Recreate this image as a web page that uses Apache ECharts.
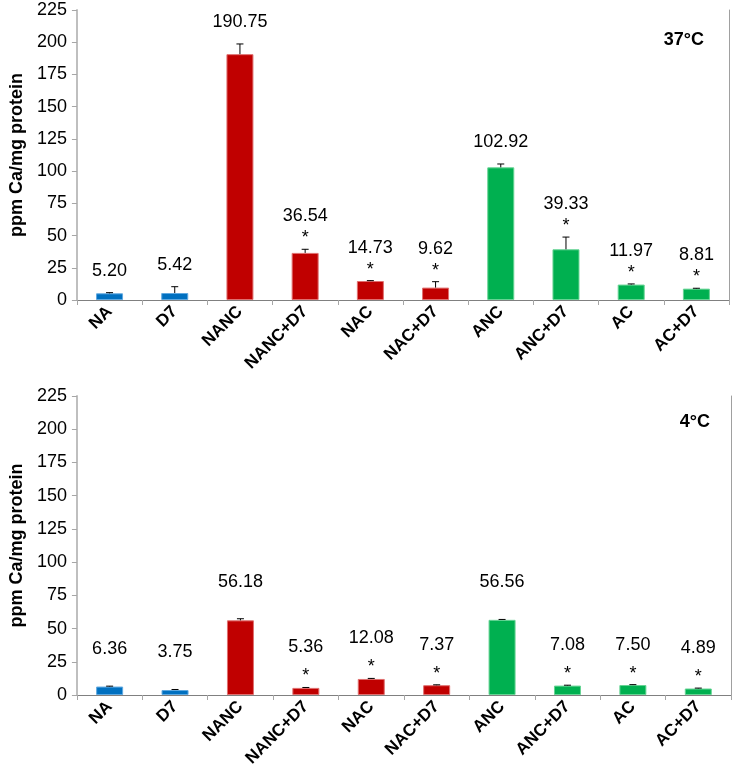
<!DOCTYPE html>
<html>
<head>
<meta charset="utf-8">
<script src="https://cdn.jsdelivr.net/npm/echarts@6/dist/echarts.min.js"></script>
<style>html,body{margin:0;padding:0;background:#fff}#c{width:732px;height:773px}</style>
</head>
<body>
<div id="c"></div>
<script>
// ---- data ----
const categories = ['NA','D7','NANC','NANC+D7','NAC','NAC+D7','ANC','ANC+D7','AC','AC+D7'];
const groups = ['ctrl','ctrl','NANC','NANC','NANC','NANC','ANC','ANC','ANC','ANC'];
const values37 = [5.20, 5.42, 190.75, 36.54, 14.73, 9.62, 102.92, 39.33, 11.97, 8.81];
const errors37 = [0.5, 4.9, 7.9, 2.8, 0.3, 4.6, 2.6, 9.5, 0.5, 0.3];
const signif37 = [0, 0, 0, 1, 1, 1, 0, 1, 1, 1];
const values4 = [6.36, 3.75, 56.18, 5.36, 12.08, 7.37, 56.56, 7.08, 7.50, 4.89];
const errors4 = [0.3, 0.4, 1.2, 0.3, 0.4, 0.3, 0.3, 0.3, 0.3, 0.3];
const signif4 = [0, 0, 0, 1, 1, 1, 0, 1, 1, 1];
const yTicks = [0, 25, 50, 75, 100, 125, 150, 175, 200, 225];
const panelTitles = ['37°C', '4°C'];

// ---- styling ----
const FONT = "'Liberation Sans', Arial, sans-serif";
const fill = {ctrl: '#0070C0', NANC: '#C00000', ANC: '#00B050'};
const edge = {ctrl: '#5FA8E0', NANC: '#E07070', ANC: '#66D494'};

const chart = echarts.init(document.getElementById('c'));

function makeRender(offStarred, offPlain, offStar) {
  return function (params, api) {
    const i = api.value(0), v = api.value(1), e = api.value(2), s = api.value(3);
    const base = api.coord([i, v]);
    const top = api.coord([i, v + e]);
    const children = [
      {type: 'line', shape: {x1: base[0], y1: base[1], x2: top[0], y2: top[1]}, style: {stroke: '#000', lineWidth: 1}},
      {type: 'line', shape: {x1: top[0] - 3.5, y1: top[1], x2: top[0] + 3.5, y2: top[1]}, style: {stroke: '#000', lineWidth: 1}}
    ];
    if (s) {
      children.push({type: 'text', style: {text: '*', x: top[0], y: top[1] - offStar, align: 'center', verticalAlign: 'middle', font: '18px ' + FONT, fill: '#000'}});
    }
    children.push({type: 'text', style: {text: v.toFixed(2), x: top[0], y: top[1] - (s ? offStarred : offPlain), align: 'center', verticalAlign: 'middle', font: '18px ' + FONT, fill: '#000'}});
    return {type: 'group', children: children};
  };
}

const grids = [
  {left: 69, top: 10, width: 660, height: 290},
  {left: 73, top: 396, width: 658, height: 299}
];
const valueSets = [values37, values4];
const errorSets = [errors37, errors4];
const signifSets = [signif37, signif4];

const xAxis = [], yAxis = [], series = [];
grids.forEach((g, k) => {
  xAxis.push({
    type: 'category', gridIndex: k, data: categories, boundaryGap: true,
    axisLine: {lineStyle: {color: '#A6A6A6', width: 1}},
    axisTick: {show: true, alignWithLabel: false, length: 5, lineStyle: {color: '#A6A6A6'}},
    axisLabel: {rotate: 45, interval: 0, margin: 9, fontFamily: FONT, fontWeight: 'bold', fontSize: 17, color: '#000'}
  });
  xAxis.push({
    type: 'category', gridIndex: k, data: categories, position: 'top',
    axisLine: {lineStyle: {color: '#808080', width: 1}}, axisTick: {show: false}, axisLabel: {show: false}
  });
  yAxis.push({
    type: 'value', gridIndex: k, min: 0, max: 225, interval: 25,
    name: 'ppm Ca/mg protein', nameLocation: 'middle', nameGap: 47, nameRotate: 90,
    nameTextStyle: {fontFamily: FONT, fontWeight: 'bold', fontSize: 18, color: '#000'},
    axisLine: {show: true, lineStyle: {color: '#BFBFBF', width: 2}},
    axisTick: {show: true, length: 5, lineStyle: {color: '#A6A6A6'}},
    splitLine: {show: false},
    axisLabel: {fontFamily: FONT, fontSize: 18, color: '#000', margin: 10,
      formatter: v => (yTicks.indexOf(v) >= 0 ? String(v) : '')}
  });
  yAxis.push({
    type: 'value', gridIndex: k, min: 0, max: 225, interval: 25, position: 'right',
    axisLine: {show: true, lineStyle: {color: '#A0A0A0', width: 1}},
    axisTick: {show: false}, axisLabel: {show: false}, splitLine: {show: false}
  });
  series.push({
    type: 'bar', xAxisIndex: 2 * k, yAxisIndex: 2 * k, barWidth: 27,
    data: valueSets[k].map((v, i) => ({value: v, itemStyle: {color: fill[groups[i]], borderColor: edge[groups[i]], borderWidth: 1}})),
    silent: true, animation: false
  });
  series.push({
    type: 'custom', xAxisIndex: 2 * k, yAxisIndex: 2 * k,
    renderItem: k === 0 ? makeRender(33, 22, 11) : makeRender(40, 37, 11),
    encode: {x: 0, y: 1},
    data: valueSets[k].map((v, i) => [i, v, errorSets[k][i], signifSets[k][i]]),
    z: 5, silent: true, animation: false
  });
});

chart.setOption({
  animation: false,
  grid: grids,
  xAxis: xAxis,
  yAxis: yAxis,
  series: series,
  graphic: [
    {type: 'text', right: 28, top: 31, style: {text: panelTitles[0], font: 'bold 18px ' + FONT, fill: '#000'}},
    {type: 'text', right: 22, top: 413, style: {text: panelTitles[1], font: 'bold 18px ' + FONT, fill: '#000'}}
  ]
});
</script>
</body>
</html>
